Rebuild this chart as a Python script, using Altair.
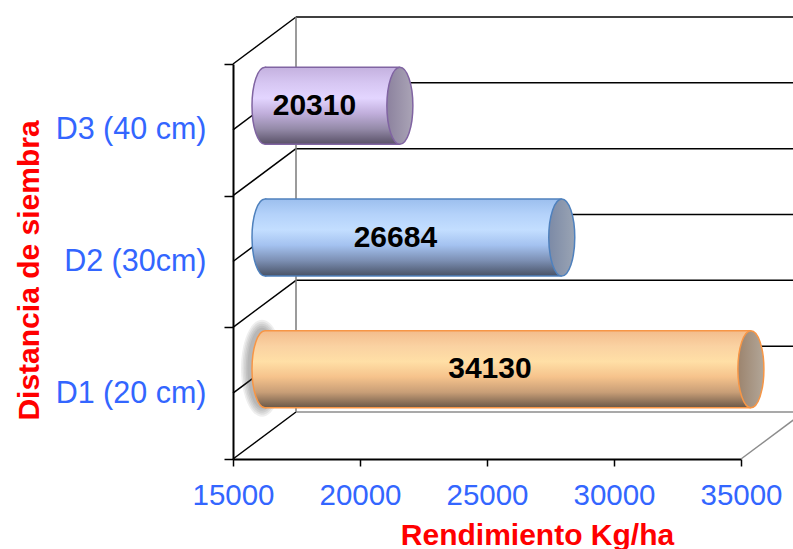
import altair as alt
import pandas as pd

# ---- data ----
categories = ["D1 (20 cm)", "D2 (30cm)", "D3 (40 cm)"]
values = [34130, 26684, 20310]
x_ticks = [15000, 20000, 25000, 30000, 35000]

body_stops = [
    ["#F3BC8C", "#FAD2A2", "#FFDFA6", "#F6C38C", "#C89E77", "#6A5848"],
    ["#9CBFEE", "#B4D2FA", "#C3DEFF", "#A4C2F0", "#7C8FB3", "#485266"],
    ["#C4B1DF", "#D6C6F2", "#E3D5FF", "#C0AEDB", "#948AA8", "#585066"],
]
end_stops = [
    ["#9C846E", "#B2A698"],
    ["#7C8AA6", "#9AA4B4"],
    ["#8C829E", "#AAA4B6"],
]
stroke_colors = ["#F79646", "#4F81BD", "#8064A2"]

FONT = "Liberation Sans"
BLUE = "#3366FF"
RED = "#FF0000"
X_MIN, X_MAX = x_ticks[0], x_ticks[-1]
DX, DY = 63, -47          # depth of the 3D box
BX, BY = 32, -24          # bar sits at mid depth
H = 77                    # cylinder thickness (px)

n = len(categories)
df = pd.DataFrame({"cat": categories, "value": values,
                   "pos": [i + 0.5 for i in range(n)]})
grid_df = pd.DataFrame({"g": [i / 2 for i in range(2 * n + 1)]})

xsc = alt.Scale(domain=[X_MIN, X_MAX], nice=False, zero=False)
xax = alt.Axis(values=x_ticks, grid=False, title="Rendimiento Kg/ha",
               domainColor="black", domainWidth=2, tickColor="black",
               tickWidth=1.5, tickSize=7, labelFont=FONT, labelFontSize=29.5,
               labelColor=BLUE, labelPadding=15, labelFlush=False,
               titleFont=FONT, titleFontSize=30, titleFontWeight="bold",
               titleColor=RED, titleX=304, titleY=85, titleAlign="center",
               titleBaseline="alphabetic", format="d")
ysc = alt.Scale(domain=[0, n], nice=False, zero=False)


def X(field):
    return alt.X(f"{field}:Q", scale=xsc, axis=xax)


def Y(field):
    return alt.Y(f"{field}:Q", scale=ysc, axis=None)


def ellipse_path(a):
    k = 0.5523
    return (f"M0,-1 C{a*k:.4f},-1 {a:.4f},{-k} {a:.4f},0 "
            f"C{a:.4f},{k} {a*k:.4f},1 0,1 "
            f"C{-a*k:.4f},1 {-a:.4f},{k} {-a:.4f},0 "
            f"C{-a:.4f},{-k} {-a*k:.4f},-1 0,-1 Z")


ELL = ellipse_path(13 / (H / 2))
ELL_SIZE = H * H


def vgrad(colors):
    m = len(colors) - 1
    return alt.LinearGradient(
        gradient="linear", x1=0, x2=0, y1=0, y2=1,
        stops=[alt.GradientStop(offset=i / m, color=c) for i, c in enumerate(colors)])


def hgrad(colors):
    return alt.LinearGradient(
        gradient="linear", x1=0, x2=1, y1=0, y2=0,
        stops=[alt.GradientStop(offset=0, color=colors[0]),
               alt.GradientStop(offset=1, color=colors[1])])


layers = []
# ---- 3D frame ----
gbase = alt.Chart(grid_df).transform_calculate(
    x0=f"{X_MIN}", x1=f"{X_MAX + 1000}", xe=f"{X_MAX}", y0="0", yn=f"{n}")
layers.append(gbase.mark_rule(color="black", strokeWidth=1.5, x2Offset=DX, y2Offset=DY)
              .encode(x=X("x0"), x2=alt.X2("x0"), y=Y("g"), y2=alt.Y2("g")))
layers.append(gbase.transform_filter("datum.g > 0")
              .mark_rule(color="black", strokeWidth=1.5, xOffset=DX, x2Offset=DX, yOffset=DY)
              .encode(x=X("x0"), x2=alt.X2("x1"), y=Y("g")))
layers.append(gbase.transform_filter("datum.g == 0")
              .mark_rule(color="#8C8C8C", strokeWidth=1.5, xOffset=DX, x2Offset=DX, yOffset=DY)
              .encode(x=X("x0"), x2=alt.X2("x1"), y=Y("g")))
layers.append(gbase.transform_filter("datum.g == 0")
              .mark_rule(color="#7A7A7A", strokeWidth=1.5, xOffset=DX, yOffset=DY, y2Offset=DY)
              .encode(x=X("x0"), y=Y("y0"), y2=alt.Y2("yn")))
layers.append(gbase.transform_filter("datum.g == 0")
              .mark_rule(color="#8C8C8C", strokeWidth=1.5, x2Offset=DX, y2Offset=DY)
              .encode(x=X("xe"), x2=alt.X2("xe"), y=Y("y0"), y2=alt.Y2("y0")))

# ---- cylinders ----
for i, cat in enumerate(categories):
    base = (alt.Chart(df).transform_filter(alt.datum.cat == cat)
            .transform_calculate(x0=f"{X_MIN}"))
    if i == 0:
        # soft shadow behind the left end of the first cylinder
        for extra in (20, 16, 12, 8, 4):
            hh = H + extra
            layers.append(base.mark_point(shape=ellipse_path((13 + extra / 2.5) / (hh / 2)),
                                          size=hh * hh, filled=True, opacity=0.09,
                                          fill="#404040", strokeWidth=0,
                                          xOffset=BX - 3, yOffset=BY - 1)
                          .encode(x=X("x0"), y=Y("pos")))
    layers.append(base.mark_point(shape=ELL, size=ELL_SIZE, filled=True, opacity=1,
                                  fill=vgrad(body_stops[i]), stroke=stroke_colors[i],
                                  strokeWidth=1.5, xOffset=BX, yOffset=BY)
                  .encode(x=X("x0"), y=Y("pos")))
    layers.append(base.mark_rect(fill=vgrad(body_stops[i]), xOffset=BX, x2Offset=BX,
                                 yOffset=BY - H / 2, y2Offset=BY + H / 2)
                  .encode(x=X("x0"), x2=alt.X2("value"), y=Y("pos"), y2=alt.Y2("pos")))
    for off in (BY - H / 2, BY + H / 2):
        layers.append(base.mark_rule(color=stroke_colors[i], strokeWidth=1.5,
                                     xOffset=BX, x2Offset=BX, yOffset=off)
                      .encode(x=X("x0"), x2=alt.X2("value"), y=Y("pos")))
    layers.append(base.mark_point(shape=ELL, size=ELL_SIZE, filled=True, opacity=1,
                                  fill=hgrad(end_stops[i]), stroke=stroke_colors[i],
                                  strokeWidth=1.5, xOffset=BX, yOffset=BY)
                  .encode(x=X("value"), y=Y("pos")))

# ---- value labels + category axis ----
yband = alt.Scale(type="band", domain=categories[::-1], paddingInner=0, paddingOuter=0)
yax = alt.Axis(title="Distancia de siembra", tickBand="extent", tickSize=9,
               tickColor="black", tickWidth=1.5, domainColor="black", domainWidth=2,
               labelFont=FONT, labelFontSize=30.5, labelColor=BLUE, labelPadding=18,
               titleFont=FONT, titleFontSize=30, titleFontWeight="bold", titleColor=RED,
               titleAngle=-90, titleX=-195, titleY=206, titleAlign="center",
               titleBaseline="alphabetic", grid=False)
labels = (alt.Chart(df)
          .transform_calculate(mid=f"({X_MIN} + datum.value) / 2")
          .mark_text(font=FONT, fontSize=30, fontWeight="bold", color="black",
                     xOffset=14, yOffset=BY, baseline="middle")
          .encode(x=X("mid"), y=alt.Y("cat:N", scale=yband, axis=yax),
                  text=alt.Text("value:Q", format="d")))
layers.append(labels)

chart = (alt.layer(*layers)
         .resolve_scale(y="independent")
         .properties(width=508, height=395,
                     autosize=alt.AutoSizeParams(type="none"),
                     padding={"left": 233, "top": 64, "right": 52, "bottom": 90},
                     background="white")
         .configure_view(stroke=None))

chart.save("out.html", embed_options={"renderer": "svg", "actions": False})
